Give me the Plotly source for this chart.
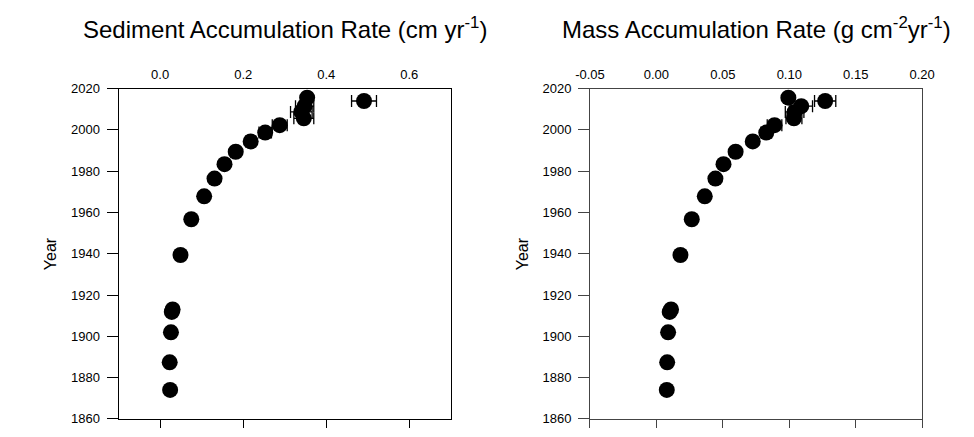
import plotly.graph_objects as go

# ---- data ----
years = [2015.6, 2014.0, 2011.5, 2008.7, 2005.6, 2002.3, 1998.7, 1994.4, 1989.4,
         1983.4, 1976.4, 1967.8, 1956.7, 1939.4, 1913.0, 1911.8, 1901.9, 1887.4, 1874.0]
sar = [0.354, 0.491, 0.348, 0.340, 0.346, 0.288, 0.253, 0.218, 0.182,
       0.155, 0.131, 0.106, 0.075, 0.049, 0.030, 0.028, 0.026, 0.023, 0.024]
sar_err = [0.010, 0.030, 0.022, 0.026, 0.024, 0.018, 0.015, 0.012, 0.010,
           0.008, 0.007, 0.006, 0.005, 0.004, 0.003, 0.003, 0.003, 0.003, 0.003]
mar = [0.0993, 0.127, 0.109, 0.104, 0.1035, 0.0889, 0.0827, 0.0725, 0.0596,
       0.0505, 0.0444, 0.0364, 0.0266, 0.0181, 0.0110, 0.0100, 0.0088, 0.0081, 0.0078]
mar_err = [0.003, 0.008, 0.0085, 0.007, 0.006, 0.0055, 0.004, 0.003, 0.003,
           0.002, 0.002, 0.002, 0.002, 0.001, 0.001, 0.001, 0.001, 0.001, 0.001]

sar_ticks = [0.0, 0.2, 0.4, 0.6]
mar_ticks = [-0.05, 0.00, 0.05, 0.10, 0.15, 0.20]
year_ticks = [1860, 1880, 1900, 1920, 1940, 1960, 1980, 2000, 2020]

title_left = "Sediment Accumulation Rate (cm yr<sup>-1</sup>)"
title_right = "Mass Accumulation Rate (g cm<sup>-2</sup>yr<sup>-1</sup>)"

FONT = "Liberation Sans, Arial, sans-serif"
W, H = 974, 437

fig = go.Figure()

marker = dict(size=16, color="black")
fig.add_trace(go.Scatter(
    x=sar, y=years, mode="markers", marker=marker, xaxis="x", yaxis="y",
    error_x=dict(type="data", array=sar_err, color="black", thickness=1.3, width=6),
    showlegend=False))
fig.add_trace(go.Scatter(
    x=mar, y=years, mode="markers", marker=marker, xaxis="x2", yaxis="y2",
    error_x=dict(type="data", array=mar_err, color="black", thickness=1.3, width=6),
    showlegend=False))
# empty traces to host the top label axes
fig.add_trace(go.Scatter(x=[], y=[], xaxis="x3", yaxis="y", showlegend=False, hoverinfo="skip"))
fig.add_trace(go.Scatter(x=[], y=[], xaxis="x4", yaxis="y2", showlegend=False, hoverinfo="skip"))

dl = [106.7 / W, 448.7 / W]
dr = [592.0 / W, 934.0 / W]
dy = [1 - 426.5 / H, 1 - 84.5 / H]

tickfont = dict(family=FONT, size=13, color="black")

def bottom_axis(dom, rng, tv, col):
    return dict(domain=dom, range=rng, tickvals=tv, showticklabels=False,
                ticks="outside", ticklen=8, tickwidth=1, tickcolor=col,
                showline=True, linecolor=col, linewidth=1, mirror=True,
                showgrid=False, zeroline=False, fixedrange=True)

def top_axis(over, rng, tv, fmt):
    return dict(overlaying=over, side="top", range=rng, tickvals=tv,
                ticktext=[fmt.format(v) for v in tv],
                ticks="outside", ticklen=3, tickcolor="rgba(0,0,0,0)",
                showline=False, showgrid=False, zeroline=False,
                tickfont=tickfont, fixedrange=True)

def y_axis(anchor, col):
    return dict(domain=dy, anchor=anchor, range=[1860, 2020], tickvals=year_ticks,
                ticks="outside", ticklen=11, tickwidth=1, tickcolor=col,
                ticklabelstandoff=4,
                showline=True, linecolor=col, linewidth=1, mirror=True,
                showgrid=False, zeroline=False, tickfont=tickfont, fixedrange=True)

lc = "black"
rc = "#444444"
fig.update_layout(
    width=W, height=H,
    margin=dict(l=0, r=0, t=0, b=0),
    paper_bgcolor="white", plot_bgcolor="white",
    xaxis=dict(anchor="y", **bottom_axis(dl, [-0.1, 0.7], sar_ticks, lc)),
    xaxis2=dict(anchor="y2", **bottom_axis(dr, [-0.05, 0.20], mar_ticks, rc)),
    xaxis3=dict(anchor="y", **top_axis("x", [-0.1, 0.7], sar_ticks, "{:.1f}")),
    xaxis4=dict(anchor="y2", **top_axis("x2", [-0.05, 0.20], mar_ticks, "{:.2f}")),
    yaxis=y_axis("x", lc),
    yaxis2=y_axis("x2", rc),
    font=dict(family=FONT, color="black"),
)

annos = [
    dict(text=title_left, x=(dl[0] + dl[1]) / 2, y=1 - 22 / H, font=dict(size=24)),
    dict(text=title_right, x=(dr[0] + dr[1]) / 2, y=1 - 22 / H, font=dict(size=24)),
    dict(text="Year", x=36 / W, y=1 - 255 / H, textangle=-90, font=dict(size=16)),
    dict(text="Year", x=522 / W, y=1 - 255 / H, textangle=-90, font=dict(size=16)),
]
for a in annos:
    fig.add_annotation(xref="paper", yref="paper", showarrow=False,
                       xanchor="center", yanchor="middle",
                       font=dict(family=FONT, color="black", size=a["font"]["size"]),
                       text=a["text"], x=a["x"], y=a["y"],
                       textangle=a.get("textangle", 0))

fig.write_html("out.html")
